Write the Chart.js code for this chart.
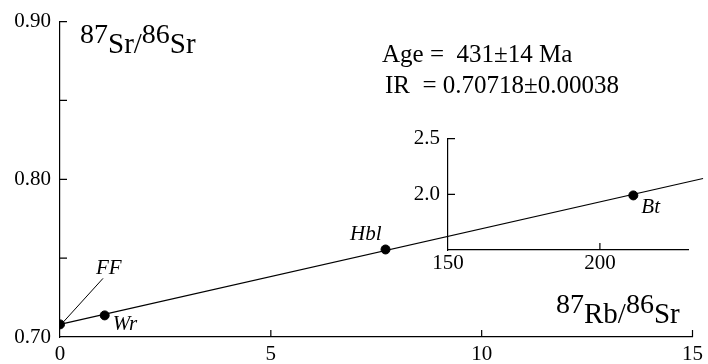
<!DOCTYPE html>
<html>
<head>
<meta charset="utf-8">
<script src="https://cdn.jsdelivr.net/npm/chart.js@4/dist/chart.umd.min.js"></script>
<style>
  html, body { margin: 0; padding: 0; background: #fff; }
  #wrap { position: relative; width: 708px; height: 364px; }
  #mainChart { position: absolute; left: 0; top: 0; }
  #insetChart { position: absolute; left: 400px; top: 118px; }
</style>
</head>
<body>
<div id="wrap">
  <canvas id="mainChart" width="708" height="364"></canvas>
  <canvas id="insetChart" width="300" height="160"></canvas>
</div>
<script>
// Whole-rock / mineral data
var sampleNames = ['FF', 'Wr', 'Hbl'];
var rbSr = [0, 1.06, 7.72];
var srSr = [0.7080, 0.7137, 0.7555];

// Inset (biotite)
var insetNames = ['Bt'];
var insetRbSr = [211];
var insetSrSr = [1.99];

// Isochron line end points
var isoX = [0, 15.25];
var isoY = [0.7080, 0.8005];

var mainXTicks = [0, 5, 10, 15];
var mainYLabels = [0.70, 0.80, 0.90];
var insetYLabels = [2.0, 2.5];

var serif = "'Liberation Serif', 'Times New Roman', serif";
Chart.defaults.font.family = serif;
Chart.defaults.font.size = 21;
Chart.defaults.color = '#000';

function toPoints(xs, ys) {
    var pts = [];
    for (var i = 0; i < xs.length; i++) {
        pts.push({x: xs[i], y: ys[i]});
    }
    return pts;
}

// draws inward tick marks on every scale
var inwardTicks = {
    id: 'inwardTicks',
    afterDraw: function(chart) {
        var ctx = chart.ctx;
        var area = chart.chartArea;
        ctx.save();
        ctx.strokeStyle = '#000';
        ctx.lineWidth = 1.2;
        ctx.beginPath();
        chart.scales.x.ticks.forEach(function(t) {
            var px = chart.scales.x.getPixelForValue(t.value);
            if (Math.abs(px - area.left) < 1) return;
            ctx.moveTo(px, area.bottom);
            ctx.lineTo(px, area.bottom - 7);
        });
        chart.scales.y.ticks.forEach(function(t) {
            var py = chart.scales.y.getPixelForValue(t.value);
            if (Math.abs(py - area.bottom) < 1) return;
            ctx.moveTo(area.left, py);
            ctx.lineTo(area.left + 7, py);
        });
        ctx.stroke();
        ctx.restore();
    }
};

// text with superscript parts: [[text, isSup], ...]
function drawSup(ctx, parts, x, y, size, supSize, raise) {
    ctx.textBaseline = 'alphabetic';
    ctx.textAlign = 'left';
    parts.forEach(function(p) {
        ctx.font = (p[1] ? supSize : size) + 'px ' + serif;
        ctx.fillText(p[0], x, p[1] ? y - raise : y);
        x += ctx.measureText(p[0]).width;
    });
}

var mainLabels = {
    id: 'mainLabels',
    afterDraw: function(chart) {
        var ctx = chart.ctx;
        var xs = chart.scales.x, ys = chart.scales.y;
        ctx.save();
        ctx.fillStyle = '#000';
        drawSup(ctx, [['87', true], ['Sr/', false], ['86', true], ['Sr', false]], 80, 53, 29, 28, 10);
        drawSup(ctx, [['87', true], ['Rb/', false], ['86', true], ['Sr', false]], 556, 323, 29, 28, 10);

        ctx.font = '25px ' + serif;
        ctx.fillText('Age =  431\u00b114 Ma', 382, 62);
        ctx.fillText('IR  = 0.70718\u00b10.00038', 385, 93);

        // sample labels, placed next to their points
        ctx.font = 'italic 21px ' + serif;
        var fx = xs.getPixelForValue(rbSr[0]), fy = ys.getPixelForValue(srSr[0]);
        ctx.textAlign = 'left';
        ctx.fillText(sampleNames[0], fx + 36, fy - 50);
        ctx.beginPath();
        ctx.lineWidth = 1;
        ctx.moveTo(fx + 3, fy - 2);
        ctx.lineTo(fx + 43, fy - 46);
        ctx.stroke();

        var wx = xs.getPixelForValue(rbSr[1]), wy = ys.getPixelForValue(srSr[1]);
        ctx.fillText(sampleNames[1], wx + 8, wy + 15);

        var hx = xs.getPixelForValue(rbSr[2]), hy = ys.getPixelForValue(srSr[2]);
        ctx.textAlign = 'right';
        ctx.fillText(sampleNames[2], hx - 4, hy - 9);
        ctx.restore();
    }
};

var mainChart = new Chart(document.getElementById('mainChart'), {
    type: 'scatter',
    data: {
        datasets: [
            {
                type: 'line',
                data: toPoints(isoX, isoY),
                borderColor: '#000',
                borderWidth: 1.2,
                pointRadius: 0,
                fill: false,
                clip: false
            },
            {
                data: toPoints(rbSr, srSr),
                backgroundColor: '#000',
                borderColor: '#000',
                pointRadius: 4.5,
                pointHoverRadius: 4.5
            }
        ]
    },
    options: {
        responsive: false,
        devicePixelRatio: 1,
        animation: false,
        events: [],
        layout: { padding: { left: 0, right: 10, top: 15, bottom: 0 } },
        plugins: { legend: { display: false }, tooltip: { enabled: false } },
        scales: {
            x: {
                type: 'linear',
                min: 0,
                max: 15,
                afterFit: function(scale) { scale.height = 27; },
                grid: { display: true, drawOnChartArea: false, drawTicks: false },
                border: { display: true, color: '#000', width: 1.2 },
                ticks: {
                    stepSize: 5,
                    padding: 5,
                    autoSkip: false,
                    maxRotation: 0,
                    callback: function(v) { return mainXTicks.indexOf(v) >= 0 ? String(v) : ''; }
                }
            },
            y: {
                type: 'linear',
                min: 0.70,
                max: 0.90,
                afterFit: function(scale) { scale.width = 60; },
                grid: { display: true, drawOnChartArea: false, drawTicks: false },
                border: { display: true, color: '#000', width: 1.2 },
                ticks: {
                    stepSize: 0.05,
                    padding: 9,
                    autoSkip: false,
                    callback: function(v) {
                        for (var i = 0; i < mainYLabels.length; i++) {
                            if (Math.abs(v - mainYLabels[i]) < 1e-6) return mainYLabels[i].toFixed(2);
                        }
                        return '';
                    }
                }
            }
        }
    },
    plugins: [inwardTicks, mainLabels]
});

var insetLabels = {
    id: 'insetLabels',
    afterDraw: function(chart) {
        var ctx = chart.ctx;
        var bx = chart.scales.x.getPixelForValue(insetRbSr[0]);
        var by = chart.scales.y.getPixelForValue(insetSrSr[0]);
        ctx.save();
        ctx.fillStyle = '#000';
        ctx.font = 'italic 21px ' + serif;
        ctx.textAlign = 'left';
        ctx.textBaseline = 'alphabetic';
        ctx.fillText(insetNames[0], bx + 8, by + 18);
        ctx.restore();
    }
};

var insetChart = new Chart(document.getElementById('insetChart'), {
    type: 'scatter',
    data: {
        datasets: [{
            data: toPoints(insetRbSr, insetSrSr),
            backgroundColor: '#000',
            borderColor: '#000',
            pointRadius: 4.5,
            pointHoverRadius: 4.5
        }]
    },
    options: {
        responsive: false,
        devicePixelRatio: 1,
        animation: false,
        events: [],
        layout: { padding: { left: 0, right: 12, top: 15, bottom: 0 } },
        plugins: { legend: { display: false }, tooltip: { enabled: false } },
        scales: {
            x: {
                type: 'linear',
                min: 150,
                max: 229,
                afterFit: function(scale) { scale.height = 28; },
                grid: { display: true, drawOnChartArea: false, drawTicks: false },
                border: { display: true, color: '#000', width: 1.2 },
                ticks: { stepSize: 50, includeBounds: false, padding: 1, autoSkip: false, maxRotation: 0 }
            },
            y: {
                type: 'linear',
                min: 1.5,
                max: 2.5,
                afterFit: function(scale) { scale.width = 48; },
                grid: { display: true, drawOnChartArea: false, drawTicks: false },
                border: { display: true, color: '#000', width: 1.2 },
                ticks: {
                    stepSize: 0.5,
                    padding: 8,
                    autoSkip: false,
                    callback: function(v) {
                        for (var i = 0; i < insetYLabels.length; i++) {
                            if (Math.abs(v - insetYLabels[i]) < 1e-6) return insetYLabels[i].toFixed(1);
                        }
                        return '';
                    }
                }
            }
        }
    },
    plugins: [inwardTicks, insetLabels]
});
</script>
</body>
</html>
